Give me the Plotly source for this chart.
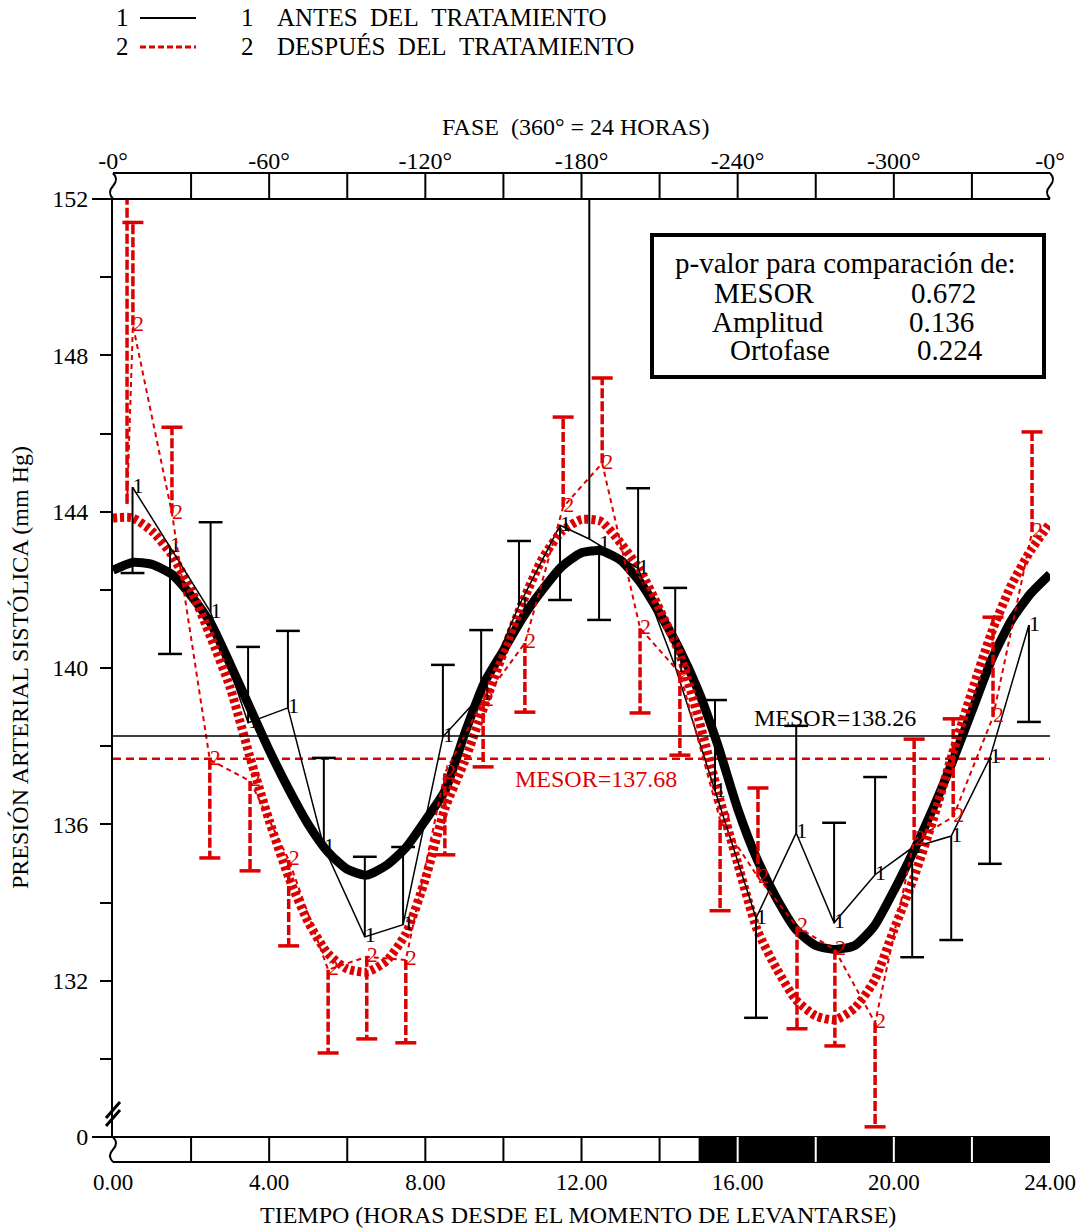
import plotly.graph_objects as go

# ---------------- data ----------------
hours_fit = [0, 0.5, 1, 1.5, 2, 2.5, 3, 3.5, 4, 4.5, 5, 5.5, 6, 6.5, 7, 7.5, 8, 8.5, 9, 9.5,
             10, 10.5, 11, 11.5, 12, 12.5, 13, 13.5, 14, 14.5, 15, 15.5, 16, 16.5, 17, 17.5,
             18, 18.5, 19, 19.5, 20, 20.5, 21, 21.5, 22, 22.5, 23, 23.5, 24]
fit_antes = [142.5, 142.7, 142.65, 142.4, 141.85, 141.15, 140.1, 139.0, 137.9, 136.9, 136.0, 135.3,
             134.85, 134.7, 134.95, 135.4, 136.1, 136.85, 138.3, 139.6, 140.45, 141.3, 142.0, 142.6,
             142.95, 143.0, 142.76, 142.2, 141.4, 140.5, 139.4, 138.0, 136.4, 135.1, 134.1, 133.3,
             132.9, 132.8, 132.9, 133.4, 134.3, 135.3, 136.4, 137.6, 138.9, 140.2, 141.2, 141.9, 142.4]
fit_despues = [143.84, 143.84, 143.5, 142.9, 142.0, 140.8, 139.5, 137.75, 136.1, 134.65, 133.5, 132.7,
               132.3, 132.22, 132.5, 133.2, 134.6, 136.4, 137.6, 139.0, 140.4, 141.7, 142.8, 143.5,
               143.8, 143.75, 143.2, 142.5, 141.5, 140.4, 138.7, 136.8, 135.0, 133.3, 132.3, 131.5,
               131.1, 131.0, 131.3, 132.0, 133.3, 134.6, 136.1, 137.8, 139.4, 140.9, 142.1, 143.0, 143.7]

t_antes = [0.5, 1.46, 2.5, 3.46, 4.48, 5.4, 6.45, 7.43, 8.45, 9.43, 10.4, 11.45, 12.2, 12.45,
           13.45, 14.4, 15.42, 16.47, 17.5, 18.47, 19.52, 20.47, 21.47, 22.46, 23.46]
y_antes = [144.63, 143.1, 141.43, 138.6, 138.98, 135.42, 133.12, 133.43, 138.24, 139.31, 141.6,
           143.65, 143.3, 143.15, 142.55, 140.03, 136.85, 133.6, 135.78, 133.48, 134.71, 135.4,
           135.7, 137.7, 141.1]
err_antes = [142.43, 140.36, 143.73, 140.54, 140.95, 137.7, 135.17, 135.42, 140.08, 140.97, 143.25,
             141.74, 153.0, 141.23, 144.6, 142.05, 139.18, 131.05, 138.52, 136.04, 137.21, 132.6,
             133.04, 134.99, 138.62]
lab_antes = ["1"] * len(t_antes)
lab_antes[12] = ""

t_despues = [0.36, 0.51, 1.51, 2.48, 3.51, 4.5, 5.51, 6.5, 7.5, 8.5, 9.48, 10.55, 11.53, 12.53,
             13.5, 14.52, 15.55, 16.52, 17.52, 18.49, 19.52, 20.52, 21.52, 22.54, 23.54]
y_despues = [144.2, 148.77, 143.96, 137.65, 137.11, 135.09, 132.28, 132.61, 132.53, 137.31, 139.18,
             140.64, 144.12, 145.24, 141.02, 139.87, 136.11, 134.65, 133.38, 132.79, 130.92, 135.6,
             136.19, 138.75, 143.48]
err_despues = [153.0, 151.4, 146.16, 135.14, 134.81, 132.89, 130.15, 130.51, 130.41, 135.22, 137.47,
               138.87, 146.42, 147.42, 138.85, 137.77, 133.79, 136.93, 130.77, 130.33, 128.26, 138.18,
               138.7, 141.3, 146.04]
lab_despues = ["2"] * len(t_despues)
lab_despues[0] = ""

mesor_antes = 138.26
mesor_despues = 137.68

hour_ticks = [0, 4, 8, 12, 16, 20, 24]
phase_labels = ["-0°", "-60°", "-120°", "-180°", "-240°", "-300°", "-0°"]
y_tickvals = [128, 132, 136, 140, 144, 148, 152]
y_ticktext = ["0", "132", "136", "140", "144", "148", "152"]
pval_names = ["MESOR", "Amplitud", "Ortofase"]
pval_values = ["0.672", "0.136", "0.224"]

RED = "#dd0000"
FONT = "Liberation Serif"

# ---------------- helpers (page pixels -> paper) ----------------
X0, X1, Y0, Y1 = 113, 1050, 199, 1137


def px(x):
    return (x - X0) / (X1 - X0)


def py(y):
    return (Y1 - y) / (Y1 - Y0)


def hx(h):
    return h / 24.0


def segments(t, y, e):
    xs, ys = [], []
    for ti, yi, ei in zip(t, y, e):
        xs += [ti, ti, None]
        ys += [yi, ei, None]
    return xs, ys


fig = go.Figure()

# MESOR lines
fig.add_trace(go.Scatter(x=[0, 24], y=[mesor_antes, mesor_antes], mode="lines",
                         line=dict(color="black", width=1.5), hoverinfo="skip", xaxis="x2"))
fig.add_trace(go.Scatter(x=[0, 24], y=[mesor_despues, mesor_despues], mode="lines",
                         line=dict(color=RED, width=2.5, dash="8px,5px"), hoverinfo="skip"))

# fitted curves
fig.add_trace(go.Scatter(x=hours_fit, y=fit_antes, mode="lines",
                         line=dict(color="black", width=9, shape="spline", smoothing=0.6)))
fig.add_trace(go.Scatter(x=hours_fit, y=fit_despues, mode="lines",
                         line=dict(color=RED, width=9, dash="4px,3px", shape="spline", smoothing=0.6)))

# black error bars
bx, by = segments(t_antes, y_antes, err_antes)
fig.add_trace(go.Scatter(x=bx, y=by, mode="lines", line=dict(color="black", width=2)))
fig.add_trace(go.Scatter(x=t_antes, y=err_antes, mode="markers",
                         marker=dict(symbol="line-ew", size=17, line=dict(color="black", width=2.5))))
# black connecting line with labels
fig.add_trace(go.Scatter(x=t_antes, y=y_antes, mode="lines+text", text=lab_antes,
                         textposition="middle right",
                         textfont=dict(family=FONT, size=22, color="black"),
                         line=dict(color="black", width=1.5)))

# red error bars
rx, ry = segments(t_despues, y_despues, err_despues)
fig.add_trace(go.Scatter(x=rx, y=ry, mode="lines", line=dict(color=RED, width=3.5, dash="10px,3px")))
fig.add_trace(go.Scatter(x=t_despues, y=err_despues, mode="markers",
                         marker=dict(symbol="line-ew", size=15, line=dict(color=RED, width=3.5))))
# red connecting line with labels
fig.add_trace(go.Scatter(x=t_despues, y=y_despues, mode="lines+text", text=lab_despues,
                         textposition="middle right",
                         textfont=dict(family=FONT, size=22, color=RED),
                         line=dict(color=RED, width=2, dash="5px,4px")))

# ---------------- decorations ----------------
shapes = []
LK = dict(color="black", width=2)
# top phase band
ty0, ty1 = py(173), py(199)
shapes.append(dict(type="line", xref="paper", yref="paper", x0=0, x1=1, y0=ty0, y1=ty0, line=LK))
shapes.append(dict(type="line", xref="paper", yref="paper", x0=px(92), x1=1, y0=ty1, y1=ty1, line=LK))
for h in range(2, 24, 2):
    shapes.append(dict(type="line", xref="paper", yref="paper", x0=hx(h), x1=hx(h),
                       y0=ty0, y1=ty1, line=LK))
# bottom band
by0, by1 = py(1137), py(1162)
shapes.append(dict(type="rect", xref="paper", yref="paper", x0=hx(15), x1=1, y0=by1, y1=by0,
                   fillcolor="black", line=dict(width=0)))
shapes.append(dict(type="line", xref="paper", yref="paper", x0=px(92), x1=1, y0=by0, y1=by0, line=LK))
shapes.append(dict(type="line", xref="paper", yref="paper", x0=0, x1=1, y0=by1, y1=by1, line=LK))
for h in range(2, 24, 2):
    col = "black" if h < 15 else "white"
    shapes.append(dict(type="line", xref="paper", yref="paper", x0=hx(h), x1=hx(h),
                       y0=by0, y1=by1, line=dict(color=col, width=2)))


def squiggle(xp, ytop, ybot):
    ym = (ytop + ybot) / 2
    return ("M {a},{b} Q {c},{d} {a},{e} Q {f},{g} {a},{h}".format(
        a=px(xp), b=py(ytop), c=px(xp + 6), d=py((ytop + ym) / 2), e=py(ym),
        f=px(xp - 6), g=py((ym + ybot) / 2), h=py(ybot)))


shapes.append(dict(type="path", xref="paper", yref="paper", path=squiggle(113, 173, 199), line=LK))
shapes.append(dict(type="path", xref="paper", yref="paper", path=squiggle(1050, 173, 199), line=LK))
shapes.append(dict(type="path", xref="paper", yref="paper", path=squiggle(113, 1137, 1162), line=LK))
# axis break marks
for off in (0, 8):
    shapes.append(dict(type="line", xref="paper", yref="paper", x0=px(106), x1=px(120),
                       y0=py(1126 - off), y1=py(1110 - off), line=dict(color="black", width=3)))
# p-value box
shapes.append(dict(type="rect", xref="paper", yref="paper", x0=px(652), x1=px(1044),
                   y0=py(377), y1=py(235), line=dict(color="black", width=4), fillcolor="white"))
# legend samples
shapes.append(dict(type="line", xref="paper", yref="paper", x0=px(140), x1=px(196),
                   y0=py(18), y1=py(18), line=dict(color="black", width=2)))
shapes.append(dict(type="line", xref="paper", yref="paper", x0=px(140), x1=px(196),
                   y0=py(47), y1=py(47), line=dict(color=RED, width=3, dash="6px,3px")))

ann = []


def text(x, y, s, size=24, color="black", xanchor="center", angle=0):
    ann.append(dict(x=px(x), y=py(y), xref="paper", yref="paper", text=s, showarrow=False,
                    xanchor=xanchor, yanchor="middle", textangle=angle,
                    font=dict(family=FONT, size=size, color=color)))


NB = "\u00a0"
text(122, 18, "1", size=25)
text(247, 18, "1", size=25)
text(275, 18, "ANTES" + NB * 2 + "DEL" + NB * 2 + "TRATAMIENTO", size=25, xanchor="left")
text(122, 47, "2", size=25)
text(247, 47, "2", size=25)
text(275, 47, "DESPUÉS" + NB * 2 + "DEL" + NB * 2 + "TRATAMIENTO", size=25, xanchor="left")
text(575, 127, "FASE" + NB * 2 + "(360° = 24 HORAS)")
text(578, 1215, "TIEMPO (HORAS DESDE EL MOMENTO DE LEVANTARSE)")
text(20, 668, "PRESIÓN ARTERIAL SISTÓLICA (mm Hg)", angle=-90)
# p-value box
text(845, 263, "p-valor para comparación de:", size=29)
name_x = [764, 768, 780]
val_x = [943, 941, 950]
row_y = [293, 322, 350]
for nm, vl, nx, vx, ry_ in zip(pval_names, pval_values, name_x, val_x, row_y):
    text(nx, ry_, nm, size=29)
    text(vx, ry_, vl, size=29)

# MESOR labels (data coordinates)
ann.append(dict(x=18.5, y=mesor_antes + 0.47, xref="x", yref="y", text="MESOR=%.2f" % mesor_antes,
                showarrow=False, font=dict(family=FONT, size=24, color="black")))
ann.append(dict(x=12.37, y=mesor_despues - 0.53, xref="x", yref="y", text="MESOR=%.2f" % mesor_despues,
                showarrow=False, font=dict(family=FONT, size=24, color=RED)))

fig.update_layout(
    width=1077, height=1229, autosize=False,
    margin=dict(l=X0, r=1077 - X1, t=Y0, b=1229 - Y1, autoexpand=False),
    paper_bgcolor="white", plot_bgcolor="white",
    showlegend=False,
    font=dict(family=FONT, color="black"),
    shapes=shapes, annotations=ann,
    xaxis=dict(range=[0, 24], tickvals=hour_ticks, ticktext=["%.2f" % h for h in hour_ticks],
               ticks="", showline=False, showgrid=False, zeroline=False, automargin=False,
               ticklabelstandoff=29, tickfont=dict(family=FONT, size=23, color="black")),
    xaxis2=dict(range=[0, 24], overlaying="x", side="top", anchor="y", tickvals=hour_ticks,
                ticktext=phase_labels, ticks="", showline=False, showgrid=False, zeroline=False,
                automargin=False,
                ticklabelstandoff=24, tickfont=dict(family=FONT, size=24, color="black")),
    yaxis=dict(range=[128, 152], tickvals=y_tickvals, ticktext=y_ticktext, ticks="outside",
               ticklen=11, tickwidth=2, tickcolor="black", showline=True, linewidth=2,
               linecolor="black", showgrid=False, zeroline=False, ticklabelstandoff=7,
               automargin=False,
               minor=dict(tick0=128, dtick=2, ticks="outside", ticklen=11, tickwidth=2,
                          tickcolor="black", showgrid=False),
               tickfont=dict(family=FONT, size=24, color="black")),
)

fig.write_html(
    "out.html",
    config={"responsive": False, "displayModeBar": False},
    default_width="1077px", default_height="1229px",
    post_script="document.body.style.margin='0';document.body.style.overflow='hidden';",
)
